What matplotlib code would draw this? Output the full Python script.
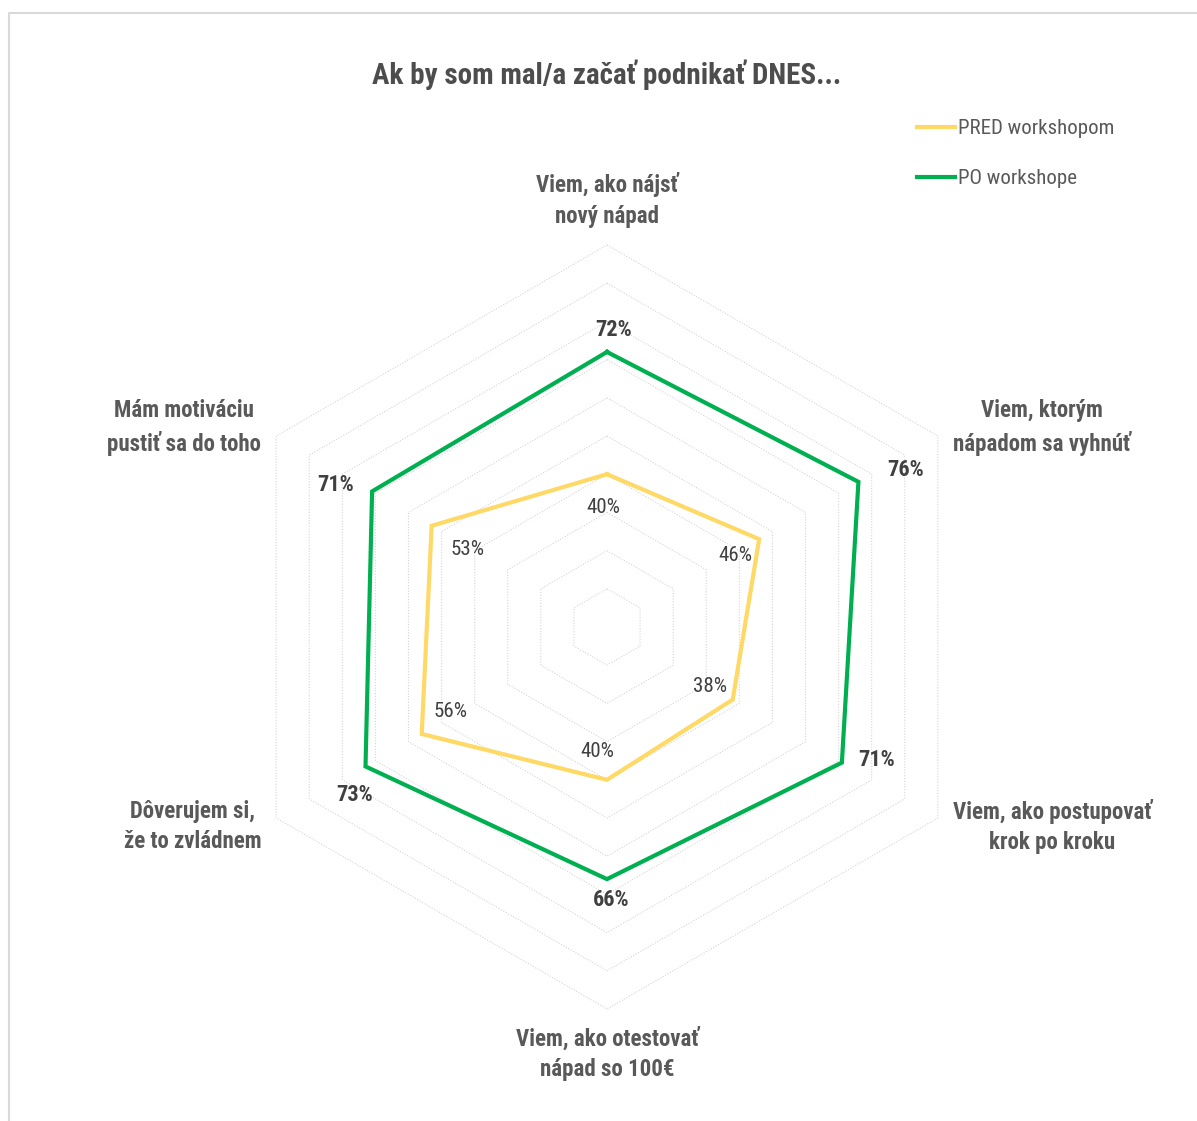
import numpy as np
import matplotlib
matplotlib.use('Agg')
import matplotlib.pyplot as plt
from matplotlib import font_manager as fm
from matplotlib.lines import Line2D

# data
categories = ['Viem, ako nájsť\nnový nápad',
              'Viem, ktorým\nnápadom sa vyhnúť',
              'Viem, ako postupovať\nkrok po kroku',
              'Viem, ako otestovať\nnápad so 100€',
              'Dôverujem si,\nže to zvládnem',
              'Mám motiváciu\npustiť sa do toho']
pred = [40, 46, 38, 40, 56, 53]
po = [72, 76, 71, 66, 73, 71]
series_names = ['PRED workshopom', 'PO workshope']
title = 'Ak by som mal/a začať podnikať DNES...'
ring_values = [10, 20, 30, 40, 50, 60, 70, 80, 90, 100]

# label offsets in pixels (x right, y up)
po_offsets = [(7, 22), (47, 12), (35, 3), (4, -21), (-11, -29), (-36, 6)]
pred_offsets = [(-4, -33), (-24, -16), (-23, 13), (-10, 28), (29, 22), (36, -24)]

YELLOW = '#FFD966'
GREEN = '#00B050'
LABEL_GRAY = '#595959'
DARK = '#404040'


def find_font(patterns):
    files = [f.fname for f in fm.fontManager.ttflist]
    for pat in patterns:
        for fn in files:
            if pat.lower() in fn.lower().replace('-', '').replace('_', ''):
                return fm.FontProperties(fname=fn)
    return None


bold_fp = find_font(['LiberationSansNarrowBold.', 'RobotoCondensedBold', 'NotoSansCondensedBold.',
                     'DejaVuSansCondensedBold.', 'OpenSansCondensedBold'])
reg_fp = find_font(['LiberationSansNarrowRegular.', 'LiberationSansNarrow.', 'RobotoCondensedRegular',
                    'NotoSansCondensed.', 'DejaVuSansCondensed.', 'OpenSansCondensedRegular'])
if bold_fp is None:
    bold_fp = fm.FontProperties(family='DejaVu Sans', weight='bold')
if reg_fp is None:
    reg_fp = fm.FontProperties(family='DejaVu Sans')


def fp(base, size):
    p = base.copy()
    p.set_size(size)
    return p


W, H = 1197, 1121
fig = plt.figure(figsize=(W / 100, H / 100), dpi=100)
cx, cy, R = 607, 627, 382
ax = fig.add_axes([(cx - R) / W, (H - cy - R) / H, 2 * R / W, 2 * R / H], projection='polar')
ax.set_theta_zero_location('N')
ax.set_theta_direction(-1)
ax.set_ylim(0, 1)
ax.set_xticks([])
ax.set_yticks([])
ax.grid(False)
ax.spines['polar'].set_visible(False)
ax.patch.set_alpha(0)

n = len(categories)
angles = np.linspace(0, 2 * np.pi, n, endpoint=False)
closed = np.append(angles, angles[0])

# hexagonal grid
for rv in ring_values:
    ax.plot(closed, [rv / 100] * (n + 1), color='#d4d4d4', lw=0.8, ls=(0, (1, 1.5)),
            clip_on=False, zorder=1)

l1, = ax.plot(closed, np.append(pred, pred[0]) / 100, color=YELLOW, lw=3.0, zorder=3,
              solid_joinstyle='miter', clip_on=False)
l2, = ax.plot(closed, np.append(po, po[0]) / 100, color=GREEN, lw=3.0, zorder=4,
              solid_joinstyle='miter', clip_on=False)

for a, v, off in zip(angles, po, po_offsets):
    ax.annotate(f'{v}%', (a, v / 100), xytext=off, textcoords='offset pixels',
                ha='center', va='center', color=DARK, fontproperties=fp(bold_fp, 16))
for a, v, off in zip(angles, pred, pred_offsets):
    ax.annotate(f'{v}%', (a, v / 100), xytext=off, textcoords='offset pixels',
                ha='center', va='center', color=DARK, fontproperties=fp(reg_fp, 15))

# category labels
for a, lab in zip(angles, categories):
    sx, sy = np.sin(a), np.cos(a)
    ha = 'left' if sx > 0.1 else ('right' if sx < -0.1 else 'center')
    va = 'bottom' if sy > 0.9 else ('top' if sy < -0.9 else 'center')
    ax.text(a, 1.045, lab, ha=ha, va=va, multialignment='center', color=LABEL_GRAY,
            fontproperties=fp(bold_fp, 16.5), linespacing=1.43)

fig.text(cx / W, 1 - 75 / H, title, ha='center', va='center', color='#4d4d4d',
         fontproperties=fp(bold_fp, 21))

leg = fig.legend([l1, l2], series_names, loc='upper left', bbox_to_anchor=(917 / W, 1 - 119 / H),
                 frameon=False, borderpad=0, borderaxespad=0, handlelength=1.8, handletextpad=0.15,
                 labelspacing=1.5, prop=fp(reg_fp, 15))
for t in leg.get_texts():
    t.set_color(LABEL_GRAY)

# outer frame (only left and top edges visible in the crop)
fig.add_artist(Line2D([9 / W, 9 / W, 1], [0, 1 - 13 / H, 1 - 13 / H], color='#d9d9d9', lw=1.5))

fig.savefig('out.png', dpi=100)
